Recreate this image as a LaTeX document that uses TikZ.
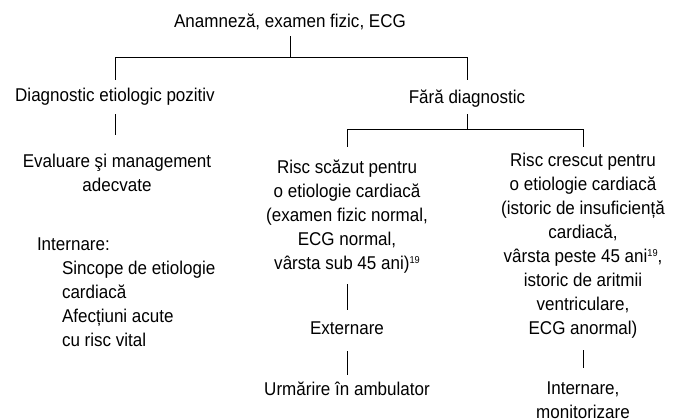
\documentclass[tikz,border=0pt]{standalone}
\usepackage{fontspec}
\setmainfont{Liberation Sans}[FakeStretch=0.92]
\newcommand{\refmark}[1]{\raisebox{6pt}{\fontsize{10}{10}\selectfont #1}}
\begin{document}
\begin{tikzpicture}[x=1pt,y=-1pt,
  lbl/.style={inner sep=0pt, outer sep=0pt, anchor=north,
    font=\fontsize{18.5}{24}\selectfont, align=center},
  link/.style={line width=0.9pt, black}]
\useasboundingbox (0,0) rectangle (682,418);

% --- texts (each starts and ends with a strut, so node edges sit at fixed
%     distances from the first and last baselines) ---
\node[lbl] (top)  at (290,10.2) {\strut Anamneză, examen fizic, ECG\strut};
\node[lbl] (diag) at (115,84.2) {\strut Diagnostic etiologic pozitiv\strut};
\node[lbl] (fara) at (467,86.2) {\strut Fără diagnostic\strut};

\node[lbl] (eval) at (117,150.2) {\strut Evaluare şi management\\adecvate\strut};
\node[lbl, anchor=north west, align=left] (intern) at (37,233.2)
  {\strut Internare:\\
   \hspace*{25pt}Sincope de etiologie\\
   \hspace*{25pt}cardiacă\\
   \hspace*{25pt}Afecțiuni acute\\
   \hspace*{25pt}cu risc vital\strut};

\node[lbl] (low) at (347,156.2)
  {\strut Risc scăzut pentru\\o etiologie cardiacă\\(examen fizic normal,\\
   ECG normal,\\vârsta sub 45 ani)\refmark{19}\strut};
\node[lbl] (ext) at (347,317.2) {\strut Externare\strut};
\node[lbl] (urm) at (347,378.2) {\strut Urmărire în ambulator\strut};

\node[lbl] (high) at (583,149.2)
  {\strut Risc crescut pentru\\o etiologie cardiacă\\(istoric de insuficiență\\
   cardiacă,\\vârsta peste 45 ani\refmark{19},\\istoric de aritmii\\
   ventriculare,\\ECG anormal)\strut};
\node[lbl] (adm) at (583,377.2) {\strut Internare,\\monitorizare\strut};

% --- bracket junctions ---
\coordinate (j0)  at (290,57);
\coordinate (jL)  at (115,57);
\coordinate (jR)  at (467,57);
\coordinate (k0)  at (467,129);
\coordinate (kL)  at (347,129);
\coordinate (kR)  at (583,129);

% --- connectors ---
\draw[link] ([yshift=-2pt]top.south) -- (j0);
\draw[link] (jL) -- (jR);
\draw[link] (jL) -- ([yshift=4.2pt]diag.north);
\draw[link] (jR) -- ([yshift=6.2pt]fara.north);

\draw[link] ([yshift=-6pt]diag.south) -- ([yshift=15pt]diag.south |- eval.north);

\draw[link] ([yshift=-4pt]fara.south) -- (k0);
\draw[link] (kL) -- (kR);
\draw[link] (kL) -- ([yshift=9.2pt]low.north);
\draw[link] (kR) -- ([yshift=2.2pt]high.north);

\draw[link] ([yshift=-7.8pt]low.south) -- ([yshift=7.2pt]ext.north);
\draw[link] ([yshift=-9.8pt]ext.south) -- ([yshift=3.2pt]urm.north);
\draw[link] ([yshift=-8.8pt]high.south) -- ([yshift=9.2pt]adm.north);
\end{tikzpicture}
\end{document}
